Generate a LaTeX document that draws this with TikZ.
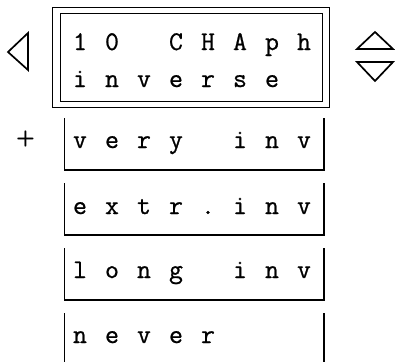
\documentclass[tikz,border=0pt]{standalone}
\usepackage{fontspec}
\newfontfamily\lcdfont{Latin Modern Mono}[FakeBold=0.8]
\tikzset{
  frame/.style={line width=1.5pt, line join=miter},
  ch/.style={anchor=base, inner sep=0pt, font=\lcdfont\fontsize{27}{27}\selectfont},
  tri/.style={line width=1.7pt, line join=miter},
}
\newcommand\lcdrow[3]{%
  \foreach \c [count=\i from 0] in {#3} {\node[ch] (#1-\i) at ({80+32*\i},#2) {\c};}}
\begin{document}
\begin{tikzpicture}[x=1pt,y=-1pt]
\useasboundingbox (0,0) rectangle (395,361);
% header double frame
\draw[frame] (52.5,7.5) rectangle (329.5,107.5);
\draw[frame] (60.5,13.5) rectangle (322.5,101.5);
\lcdrow{ha}{50}{1,0,{},C,H,A,p,h}
\lcdrow{hb}{87}{i,n,v,e,r,s,e}
% navigation triangles
\draw[tri] (8,52) -- (28,33) -- (28,70) -- cycle;
\draw[tri] (375,32) -- (393,49) -- (357,49) -- cycle;
\draw[tri] (357,62) -- (393,62) -- (375,81) -- cycle;
% plus
\node[inner sep=0pt, font=\sffamily\bfseries\fontsize{22}{22}\selectfont] (plus) at (25.5,139) {+};
% option boxes
\foreach \k in {0,1,2} {
  \draw[frame] (64.5,{118+65*\k}) -- (64.5,{170+65*\k}) -- (324,{170+65*\k}) -- (324,{118+65*\k});
}
\draw[frame] (64.5,313) -- (64.5,365);
\draw[frame, line width=2.5pt] (324,313) -- (324,365);
\lcdrow{ra}{148}{v,e,r,y,{},i,n,v}
\lcdrow{rb}{214}{e,x,t,r,.,i,n,v}
\lcdrow{rc}{278}{l,o,n,g,{},i,n,v}
\lcdrow{rd}{343}{n,e,v,e,r}
\end{tikzpicture}
\end{document}
